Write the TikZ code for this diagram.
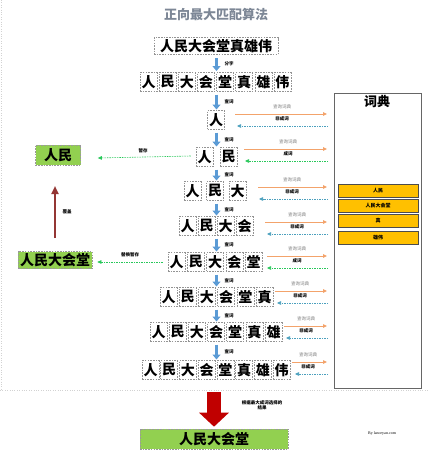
\documentclass[tikz,border=0pt]{standalone}
\usepackage{fontspec}
\setmainfont{Noto Sans CJK SC}
\newfontfamily\creditfont{Liberation Serif}
\usetikzlibrary{arrows.meta}
\definecolor{myblue}{RGB}{91,155,213}
\definecolor{myorange}{RGB}{240,140,70}
\definecolor{myteal}{RGB}{75,160,190}
\definecolor{mygreen}{RGB}{40,200,90}
\definecolor{grnfill}{RGB}{146,208,80}
\definecolor{myyellow}{RGB}{255,192,0}
\definecolor{mybrown}{RGB}{148,54,52}
\definecolor{myred}{RGB}{192,0,0}
\definecolor{titlegray}{RGB}{125,135,150}
\tikzset{
  ch/.style={draw=gray!85, dash pattern=on 1.6pt off 1.1pt, line width=0.5pt, minimum width=17pt, minimum height=19pt, inner sep=0pt, font=\fontsize{14}{14}\selectfont\bfseries},
  gbox/.style={draw=gray!80, dash pattern=on 1.6pt off 1.1pt, line width=0.6pt, fill=grnfill, inner sep=0pt, font=\fontsize{14}{14}\selectfont\bfseries},
  barrow/.style={draw=myblue, line width=3pt, -{Triangle[width=8pt,length=5pt]}},
  oarrow/.style={draw=myorange!80, line width=0.8pt, -{Triangle[width=3.5pt,length=4pt,fill=myorange]}},
  tarrow/.style={draw=myteal, dash pattern=on 1.5pt off 1pt, line width=0.6pt, -{Triangle[width=3.5pt,length=4pt,fill=myteal]}},
  garrow/.style={draw=mygreen, dash pattern=on 1.5pt off 1pt, line width=0.6pt, -{Triangle[width=3.5pt,length=4pt,fill=mygreen]}},
  lab/.style={font=\fontsize{4.5}{5}\selectfont, text=gray, inner sep=0.5pt},
  labb/.style={font=\fontsize{4.5}{5}\selectfont\bfseries, text=black, inner sep=0.5pt},
  item/.style={draw=gray!60!black, line width=0.6pt, fill=myyellow, minimum width=80pt, minimum height=13pt, inner sep=0pt, font=\fontsize{5}{5}\selectfont\bfseries}
}
\begin{document}
\begin{tikzpicture}[x=1pt,y=-1pt]
\useasboundingbox (0,0) rectangle (429,450);
\fill[white] (0,0) rectangle (429,450);
\draw[gray!35, dotted] (1,0) -- (1,390);
\draw[gray!35, dotted] (0,390) -- (429,390);

\node[font=\fontsize{13}{13}\selectfont\bfseries, text=titlegray] (title) at (216,15) {正向最大匹配算法};

\node[ch, minimum width=124pt, minimum height=17pt] (sent) at (216,46) {人民大会堂真雄伟};

\foreach \c [count=\i] in {人,民,大,会,堂,真,雄,伟}{
  \pgfmathsetmacro\cx{148.5+(\i-1)*19.14}
  \node[ch] (s\i) at (\cx,82) {\c};
}

% dictionary
\node[draw=gray!80!black, line width=0.7pt, minimum width=87pt, minimum height=295pt, anchor=north west, inner sep=0pt] (dict) at (334,93) {};
\node[font=\fontsize{13}{13}\selectfont\bfseries] (dtitle) at (377,102) {词典};
\node[item] (d1) at (378,190.5) {人民};
\node[item] (d2) at (378,205.5) {人民大会堂};
\node[item] (d3) at (378,220.5) {真};
\node[item] (d4) at (378,238) {雄伟};

\foreach \k/\l/\r/\y/\oy/\ry/\lx/\os/\rs/\w in {
  1/207/225/120/114/126/282/235/237/0,
  2/196/237/157/149/161/288/244/245/1,
  3/184/246/191/187/199/292/258/259/0,
  4/179/253/226/222/234/297/265/267/0,
  5/168/262/262/256/268/297/267/267/1,
  6/160/273/297/291/303/300/275/277/0,
  7/150/282/332/326/338/306/284/286/0,
  8/142/290/370/362/374/308/292/295/0}{
  \ifnum\k=1 \def\pitch{0}\else\pgfmathsetmacro\pitch{(\r-\l-17)/(\k-1)}\fi
  \foreach \c [count=\i] in {人,民,大,会,堂,真,雄,伟}{
    \ifnum\i>\k\relax\else
      \ifnum\k=1 \pgfmathsetmacro\cx{(\l+\r)/2}\else\pgfmathsetmacro\cx{\l+8.5+(\i-1)*\pitch}\fi
      \node[ch] (r\k-\i) at (\cx,\y) {\c};
    \fi
  }
  \coordinate (os\k) at (\os,\oy);
  \coordinate (oe\k) at (327,\oy);
  \draw[oarrow] (os\k) -- (oe\k);
  \node[lab] (q\k) at (\lx,\oy-7) {查询词典};
  \ifnum\w=1 \def\stt{成词}\def\rst{garrow}\else\def\stt{非成词}\def\rst{tarrow}\fi
  \node[labb] (st\k) at (\lx,\oy+5) {\stt};
  \coordinate (rs\k) at (328,\ry);
  \coordinate (re\k) at (\rs,\ry);
  \draw[style=\rst] (rs\k) -- (re\k);
}

% blue arrows
\coordinate (b0a) at (216.5,58);
\coordinate (b0b) at (216.5,71);
\draw[barrow] (b0a) -- (b0b);
\node[labb, anchor=west] (bl0) at (224,64) {分字};
\foreach \py/\ny [count=\j] in {82/120,120/157,157/191,191/226,226/262,262/297,297/332,332/370}{
  \coordinate (ba\j) at (216.5,\py+12.5);
  \coordinate (bb\j) at (216.5,\ny-10.5);
  \draw[barrow] (ba\j) -- (bb\j);
  \node[labb, anchor=west] (bl\j) at (224,{(\py+\ny)/2+1}) {查词};
}

% green result boxes on the left
\node[gbox, minimum width=45pt, minimum height=20pt] (g1) at (58,155) {人民};
\node[gbox, minimum width=74pt, minimum height=17pt] (g2) at (55,260) {人民大会堂};
\draw[garrow] ([xshift=-5pt,yshift=1pt]r2-1.west) -- ([xshift=17pt]g1.east |- 0,158);
\node[labb] (tl1) at (143,151) {暂存};
\draw[garrow] ([xshift=-5pt]r5-1.west) -- ([xshift=5pt]g2.east |- 0,262);
\node[labb] (tl2) at (130,255) {替换暂存};

% brown arrow
\coordinate (bra) at (55,238);
\coordinate (brb) at (55,186);
\draw[draw=mybrown, line width=2.5pt, -{Triangle[width=7pt,length=8pt]}] (bra) -- (brb);
\node[labb] (brl) at (67,212) {覆盖};

% final result
\node[gbox, minimum width=148pt, minimum height=20pt] (res) at (214,439) {人民大会堂};
\coordinate (ra) at (214,392);
\draw[draw=myred, line width=14pt, -{Triangle[width=29pt,length=14pt]}, shorten >=2pt] (ra) -- (res.north);
\node[labb, align=center] (note) at (262,405) {根据最大成词选择的\\结果};

\node[font=\creditfont\fontsize{4}{4}\selectfont, inner sep=0pt] (credit) at (382,434) {By lanceyan.com};
\end{tikzpicture}
\end{document}
